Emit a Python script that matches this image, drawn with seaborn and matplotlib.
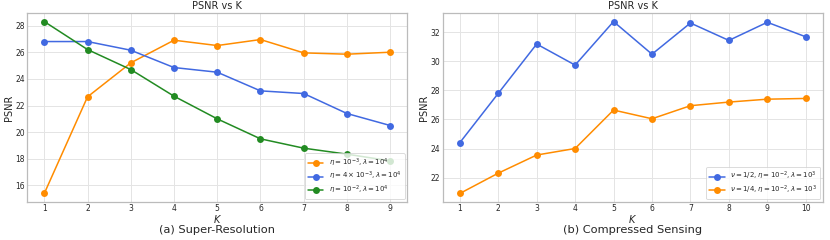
import pandas as pd
import numpy as np
import matplotlib
matplotlib.use("Agg")
import matplotlib.pyplot as plt
import seaborn as sns

# (a) Super-Resolution
k_sr = [1, 2, 3, 4, 5, 6, 7, 8, 9]
sr_eta_1e3 = [15.4, 22.65, 25.2, 26.9, 26.5, 26.95, 25.95, 25.85, 26.0]
sr_eta_4e3 = [26.8, 26.8, 26.15, 24.85, 24.5, 23.1, 22.9, 21.4, 20.5]
sr_eta_1e2 = [28.3, 26.2, 24.7, 22.7, 21.0, 19.5, 18.8, 18.35, 17.85]
sr_labels = [r'$\eta = 10^{-3}, \lambda = 10^4$',
             r'$\eta = 4 \times 10^{-3}, \lambda = 10^4$',
             r'$\eta = 10^{-2}, \lambda = 10^4$']

# (b) Compressed Sensing
k_cs = [1, 2, 3, 4, 5, 6, 7, 8, 9, 10]
cs_half = [24.4, 27.8, 31.2, 29.75, 32.75, 30.5, 32.65, 31.45, 32.7, 31.7]
cs_quarter = [20.9, 22.3, 23.55, 24.0, 26.65, 26.05, 26.95, 27.2, 27.4, 27.45]
cs_labels = [r'$\nu = 1/2, \eta = 10^{-2}, \lambda = 10^3$',
             r'$\nu = 1/4, \eta = 10^{-2}, \lambda = 10^3$']

orange = '#ff8c00'
blue = '#4169e1'
green = '#228b22'

sns.set_theme(style='whitegrid')
plt.rcParams['font.family'] = ['DejaVu Sans']

fig, axes = plt.subplots(1, 2, figsize=(8.3, 2.4), dpi=100)
fig.subplots_adjust(left=0.0325, right=0.9916, top=0.946, bottom=0.158, wspace=0.092)


def draw(ax, k, series, labels, colors, caption):
    df = pd.concat([pd.DataFrame({'K': k, 'PSNR': s, 'cfg': lab})
                    for s, lab in zip(series, labels)])
    sns.lineplot(data=df, x='K', y='PSNR', hue='cfg', palette=colors,
                 marker='o', markersize=5, markeredgewidth=0, linewidth=1.1, ax=ax)
    ax.set_title('PSNR vs K', fontsize=7, pad=2.5)
    ax.set_xlabel(r'$K$', fontsize=7, labelpad=-0.3)
    ax.set_ylabel('PSNR', fontsize=7, labelpad=1)
    ax.set_xticks(k)
    ax.tick_params(labelsize=5.5, pad=1.5, length=0)
    ax.grid(True, color='#e4e4e4', linewidth=0.7)
    for sp in ax.spines.values():
        sp.set_edgecolor('#bbbbbb')
        sp.set_linewidth(0.9)
    leg = ax.legend(loc='lower right', fontsize=5, frameon=True,
                    borderpad=0.45, labelspacing=0.2, handlelength=2.2,
                    borderaxespad=0.4)
    leg.get_frame().set_linewidth(0.6)
    ax.text(0.5, -0.122, caption, transform=ax.transAxes, ha='center', va='top',
            fontsize=8.2)


draw(axes[0], k_sr, [sr_eta_1e3, sr_eta_4e3, sr_eta_1e2], sr_labels,
     [orange, blue, green], '(a) Super-Resolution')
draw(axes[1], k_cs, [cs_half, cs_quarter], cs_labels,
     [blue, orange], '(b) Compressed Sensing')

fig.savefig('out.png', dpi=100)
